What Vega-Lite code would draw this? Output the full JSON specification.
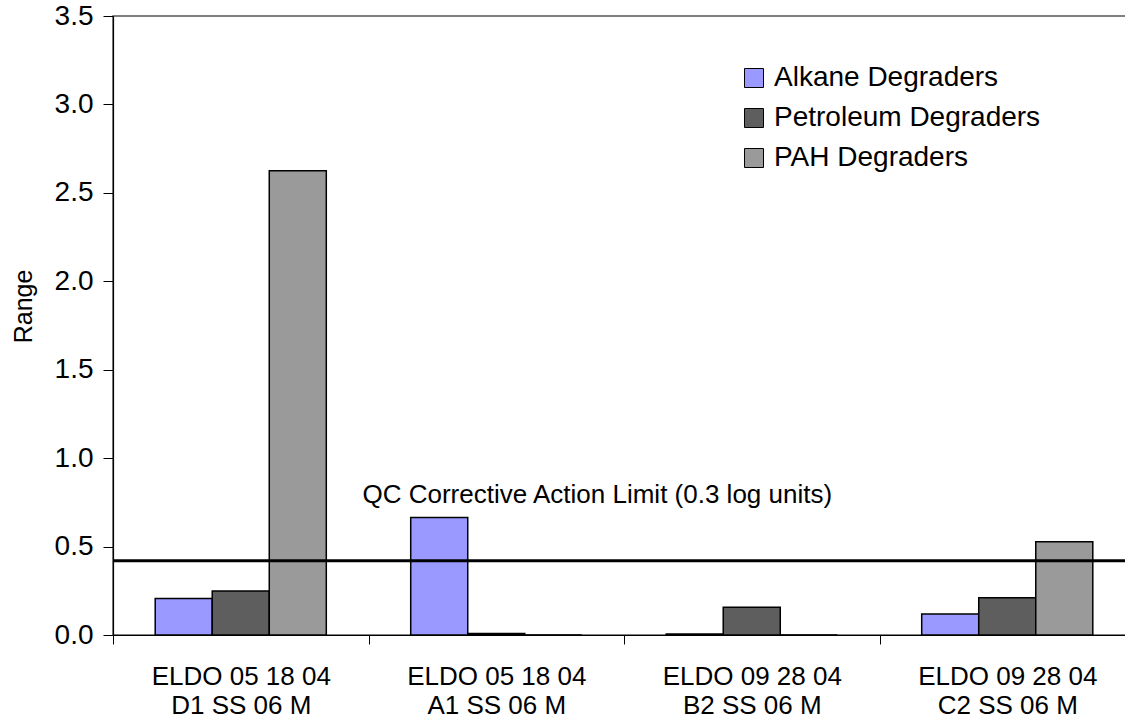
{
  "$schema": "https://vega.github.io/schema/vega-lite/v6.json",
  "width": 1022,
  "height": 619,
  "autosize": {"type": "none"},
  "padding": {"left": 113, "top": 16, "right": 0, "bottom": 84},
  "background": "white",
  "config": {
    "font": "Liberation Sans",
    "view": {"stroke": "#555555", "strokeWidth": 1.5},
    "axis": {
      "grid": false,
      "domainColor": "#000000",
      "domainWidth": 1.2,
      "tickColor": "#000000",
      "labelColor": "#000000",
      "titleColor": "#000000",
      "labelFont": "Liberation Sans",
      "titleFont": "Liberation Sans"
    }
  },
  "layer": [
    {
      "data": {
        "values": [
          {"sample": "ELDO 05 18 04|D1 SS 06 M", "group": "Alkane Degraders", "range": 0.207},
          {"sample": "ELDO 05 18 04|D1 SS 06 M", "group": "Petroleum Degraders", "range": 0.249},
          {"sample": "ELDO 05 18 04|D1 SS 06 M", "group": "PAH Degraders", "range": 2.625},
          {"sample": "ELDO 05 18 04|A1 SS 06 M", "group": "Alkane Degraders", "range": 0.665},
          {"sample": "ELDO 05 18 04|A1 SS 06 M", "group": "Petroleum Degraders", "range": 0.008},
          {"sample": "ELDO 05 18 04|A1 SS 06 M", "group": "PAH Degraders", "range": 0},
          {"sample": "ELDO 09 28 04|B2 SS 06 M", "group": "Alkane Degraders", "range": 0.005},
          {"sample": "ELDO 09 28 04|B2 SS 06 M", "group": "Petroleum Degraders", "range": 0.157},
          {"sample": "ELDO 09 28 04|B2 SS 06 M", "group": "PAH Degraders", "range": 0},
          {"sample": "ELDO 09 28 04|C2 SS 06 M", "group": "Alkane Degraders", "range": 0.119},
          {"sample": "ELDO 09 28 04|C2 SS 06 M", "group": "Petroleum Degraders", "range": 0.211},
          {"sample": "ELDO 09 28 04|C2 SS 06 M", "group": "PAH Degraders", "range": 0.527}
        ]
      },
      "mark": {"type": "bar", "stroke": "#000000", "strokeWidth": 1.5},
      "encoding": {
        "x": {
          "field": "sample",
          "type": "nominal",
          "sort": null,
          "scale": {"paddingInner": 0, "paddingOuter": 0},
          "axis": {
            "title": null,
            "labelAngle": 0,
            "labelExpr": "isString(datum.value) ? split(datum.value, '|') : ''",
            "labelFontSize": 26,
            "labelLineHeight": 29,
            "labelPadding": 19,
            "labelBaseline": "top",
            "labelLimit": 300,
            "tickSize": 9,
            "tickBand": "extent"
          }
        },
        "xOffset": {
          "field": "group",
          "type": "nominal",
          "sort": ["Alkane Degraders", "Petroleum Degraders", "PAH Degraders"],
          "scale": {"paddingInner": 0, "paddingOuter": 0.74}
        },
        "y": {
          "field": "range",
          "type": "quantitative",
          "scale": {"domain": [0, 3.5], "nice": false},
          "axis": {
            "title": "Range",
            "values": [0, 0.5, 1, 1.5, 2, 2.5, 3, 3.5],
            "format": ".1f",
            "labelFontSize": 28,
            "labelPadding": 10,
            "tickSize": 10,
            "titleFontSize": 25,
            "titleFontWeight": "normal",
            "titlePadding": 18,
            "titleY": 290
          }
        },
        "color": {
          "field": "group",
          "type": "nominal",
          "scale": {
            "domain": ["Alkane Degraders", "Petroleum Degraders", "PAH Degraders"],
            "range": ["#9999ff", "#5e5e5e", "#9a9a9a"]
          },
          "legend": {
            "title": null,
            "orient": "none",
            "legendX": 627,
            "legendY": 48,
            "padding": 0,
            "labelFontSize": 28,
            "labelLimit": 400,
            "labelColor": "#000000",
            "labelOffset": 6,
            "symbolType": "square",
            "symbolSize": 361,
            "symbolStrokeColor": "#000000",
            "symbolStrokeWidth": 1,
            "rowPadding": 12
          }
        }
      }
    },
    {
      "data": {"values": [{"limit": 0.42, "note": "QC Corrective Action Limit (0.3 log units)"}]},
      "layer": [
        {
          "mark": {"type": "rule", "color": "#000000", "strokeWidth": 3},
          "encoding": {"y": {"field": "limit", "type": "quantitative"}}
        },
        {
          "mark": {"type": "text", "align": "left", "baseline": "alphabetic", "fontSize": 26, "dx": -6, "dy": -58, "color": "#000000"},
          "encoding": {
            "x": {"datum": "ELDO 05 18 04|A1 SS 06 M", "type": "nominal", "bandPosition": 0},
            "y": {"field": "limit", "type": "quantitative"},
            "text": {"field": "note"}
          }
        }
      ]
    }
  ]
}
